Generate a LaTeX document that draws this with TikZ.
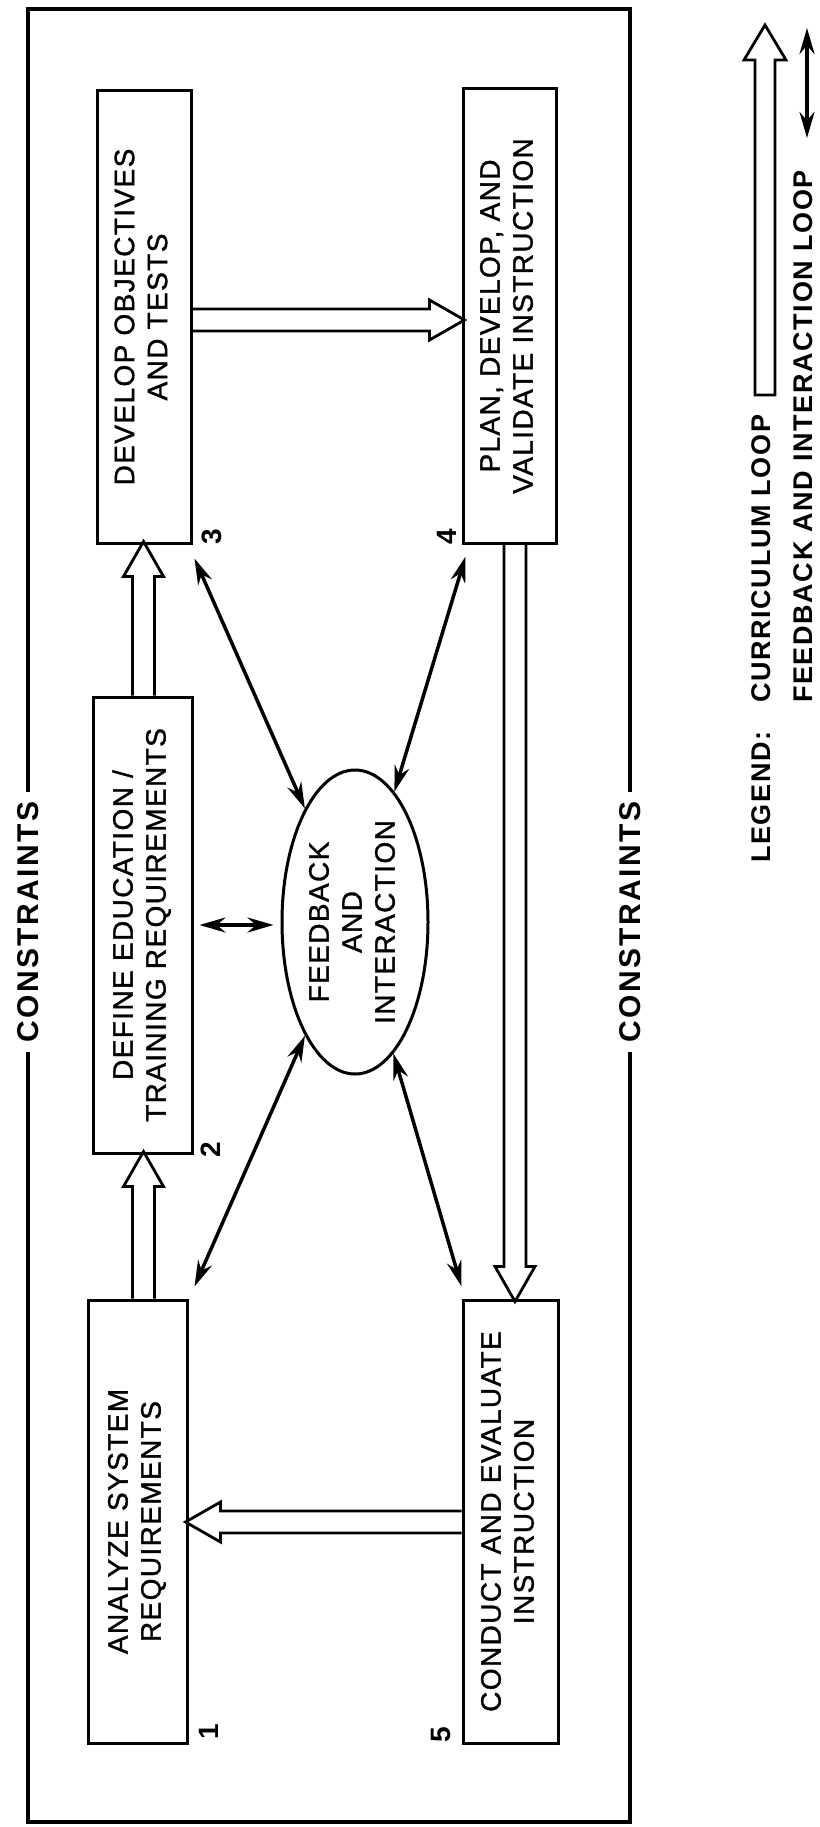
\documentclass[tikz,border=0pt]{standalone}
\usepackage{fontspec}
\setmainfont{Liberation Sans}
\newfontfamily\boxfont{Liberation Sans}[LetterSpace=5,FakeBold=1.2]
\newfontfamily\legfont{Liberation Sans}[LetterSpace=6]
\newfontfamily\consfont{Liberation Sans}[LetterSpace=8]
\usetikzlibrary{arrows.meta,calc,shapes.geometric}
\newcommand{\vtext}[1]{\rotatebox{90}{\begin{tabular}{@{}c@{}}#1\end{tabular}}}
\newcommand{\hollowarrow}[3]{\draw[hollowline,shift={(#1)},rotate=#2] (0,-11) -- ({#3-35},-11) -- ({#3-35},-20) -- (#3,0) -- ({#3-35},20) -- ({#3-35},11) -- (0,11);}
\begin{document}
\begin{tikzpicture}[x=1pt,y=-1pt,
  procbox/.style={draw,line width=3pt,inner sep=0pt,font=\boxfont\fontsize{28}{33}\selectfont},
  fbarrow/.style={line width=3.5pt,{Stealth[length=26pt,width=15pt]}-{Stealth[length=26pt,width=15pt]}},
  hollowline/.style={line width=2.8pt,line join=miter},
  constext/.style={fill=white,inner xsep=2pt,inner ysep=10pt,font=\consfont\bfseries\fontsize{30}{36}\selectfont},
  legtext/.style={inner sep=0pt,font=\legfont\bfseries\fontsize{27}{32}\selectfont},
  numtext/.style={inner sep=0pt,font=\bfseries\fontsize{28}{32}\selectfont}]
\useasboundingbox (0,0) rectangle (819,1827);
% frame
\draw[line width=4pt] (28,9) rectangle (630,1822);
\node[constext] (consL) at (28,922) {\rotatebox{90}{CONSTRAINTS}};
\node[constext] (consR) at (630,922) {\rotatebox{90}{CONSTRAINTS}};
% process boxes
\node[procbox,minimum width=94pt,minimum height=452pt] (b3) at (144,317) {\vtext{DEVELOP OBJECTIVES\\AND TESTS}};
\node[procbox,minimum width=93pt,minimum height=454pt] (b4) at (509.5,316) {\vtext{PLAN, DEVELOP, AND\\VALIDATE INSTRUCTION}};
\node[procbox,minimum width=99pt,minimum height=456pt] (b2) at (142.5,925) {\vtext{DEFINE EDUCATION /\\TRAINING REQUIREMENTS}};
\node[procbox,minimum width=99pt,minimum height=443pt] (b1) at (137.5,1521.5) {\vtext{ANALYZE SYSTEM\\REQUIREMENTS}};
\node[procbox,minimum width=95pt,minimum height=443pt] (b5) at (510.5,1521.5) {\vtext{CONDUCT AND EVALUATE\\INSTRUCTION}};
\node[procbox,ellipse,minimum width=146pt,minimum height=304pt] (fi) at (355,922) {\vtext{FEEDBACK\\AND\\INTERACTION}};
% numbers
\node[numtext] (n3) at ($(b3.south east)+(19,-8)$) {\rotatebox{90}{3}};
\node[numtext] (n4) at ($(b4.south west)+(-15,-8)$) {\rotatebox{90}{4}};
\node[numtext] (n2) at ($(b2.south east)+(17,-5)$) {\rotatebox{90}{2}};
\node[numtext] (n1) at ($(b1.south east)+(20,-13)$) {\rotatebox{90}{1}};
\node[numtext] (n5) at ($(b5.south west)+(-21,-10)$) {\rotatebox{90}{5}};
% curriculum loop (hollow arrows)
\coordinate (hA) at ($(b1.north)+(6,0)$);
\hollowarrow{hA}{90}{147}
\coordinate (hB) at ($(b2.north)+(1,0)$);
\hollowarrow{hB}{90}{154}
\coordinate (hC) at ($(b3.east)+(0,3)$);
\hollowarrow{hC}{0}{272}
\coordinate (hD) at ($(b4.south)+(5.5,0)$);
\hollowarrow{hD}{-90}{757}
\coordinate (hE) at ($(b5.west)+(0,0.5)$);
\hollowarrow{hE}{180}{276}
% feedback and interaction loop
\coordinate (c3) at ($(b3.south east)+(2,14)$);
\draw[fbarrow] (c3) -- (fi);
\coordinate (c4) at ($(b4.south west)+(4,12)$);
\draw[fbarrow] (c4) -- (fi);
\coordinate (c1) at ($(b1.north east)+(6,-12)$);
\draw[fbarrow] (c1) -- (fi);
\coordinate (c5) at ($(b5.north west)+(0,-12)$);
\draw[fbarrow] (c5) -- (fi);
\draw[fbarrow,shorten <=6pt,shorten >=7pt] (b2.east) -- (b2.east -| fi.west);
% legend
\coordinate (lgTip) at (765,25);
\draw[hollowline] (755,395) -- (755,60) -- (744,60) -- (lgTip) -- (786,60) -- (775,60) -- (775,395) -- cycle;
\coordinate (lfA) at (807,28);
\coordinate (lfB) at (807,138);
\draw[fbarrow] (lfA) -- (lfB);
\node[legtext,anchor=south] (legL) at (761,863) {\rotatebox{90}{LEGEND:}};
\node[legtext,anchor=south] (legC) at (761,703) {\rotatebox{90}{CURRICULUM LOOP}};
\node[legtext,anchor=south] (legF) at (803,703) {\rotatebox{90}{FEEDBACK AND INTERACTION LOOP}};
\end{tikzpicture}
\end{document}
